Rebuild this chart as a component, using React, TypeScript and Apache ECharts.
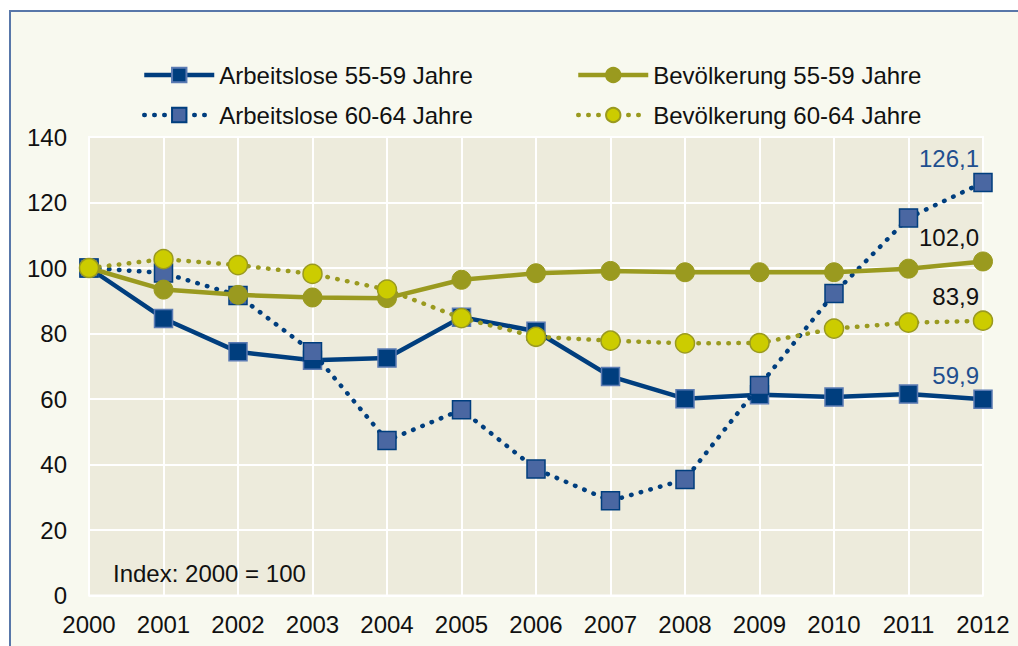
import React, { useEffect, useRef } from "react";
import * as echarts from "echarts";

const years = ["2000","2001","2002","2003","2004","2005","2006","2007","2008","2009","2010","2011","2012"];
const arb5559 = [100, 84.6, 74.4, 71.8, 72.5, 85.0, 80.7, 66.9, 60.1, 61.3, 60.6, 61.5, 59.9];
const arb6064 = [100, 98.5, 91.6, 74.4, 47.3, 56.7, 38.6, 28.9, 35.4, 64.1, 92.2, 115.3, 126.1];
const bev5559 = [100, 93.4, 91.8, 91.0, 90.8, 96.4, 98.4, 99.1, 98.7, 98.7, 98.7, 99.8, 102.0];
const bev6064 = [100, 102.7, 100.9, 98.2, 93.4, 84.7, 79.0, 77.8, 77.0, 77.1, 81.5, 83.3, 83.9];
const seriesNames = ["Arbeitslose 55-59 Jahre", "Arbeitslose 60-64 Jahre", "Bevölkerung 55-59 Jahre", "Bevölkerung 60-64 Jahre"];
const yTicks = { min: 0, max: 140, interval: 20 };
const noteText = "Index: 2000 = 100";

const FONT = "Liberation Sans, Arial, sans-serif";
const FS = 24;
const NAVY = "#003e7e";
const NAVY_LIGHT = "#4a67a2";
const STEEL = "#5b7bb3";
const OLIVE = "#9a9a1f";
const YELLOW = "#cccc00";
const LABEL_BLUE = "#1f4f8f";

const fmt = (v: number) => v.toFixed(1).replace(".", ",");

function lastLabel(color: string) {
  return {
    show: true,
    position: "top",
    distance: 2,
    align: "right",
    offset: [-4, 0],
    color,
    fontSize: FS,
    fontFamily: FONT,
    formatter: (p: any) => (p.dataIndex === years.length - 1 ? fmt(p.value) : ""),
  };
}

export default function App() {
  const ref = useRef<HTMLDivElement>(null);
  useEffect(() => {
    document.body.style.margin = "0";
    const chart = echarts.init(ref.current!, undefined, { renderer: "svg" });
    const dotted = { type: [0.5, 9.5], cap: "round" } as any;
    const legendBase = {
      orient: "vertical", top: 58, itemWidth: 70, itemHeight: 18, itemGap: 16,
      textStyle: { fontSize: FS, color: "#111", fontFamily: FONT, lineHeight: 24 },
      lineStyle: { width: 4.5 },
    };
    chart.setOption({
      animation: false,
      textStyle: { fontFamily: FONT },
      grid: {
        left: 89, right: 35, top: 137, bottom: 50.5,
        show: true, backgroundColor: "#edebdc", borderColor: "#ffffff", borderWidth: 2,
      },
      legend: [
        { ...legendBase, left: 137, data: [seriesNames[0], seriesNames[1]] },
        { ...legendBase, left: 571, data: [seriesNames[2], seriesNames[3]] },
      ],
      xAxis: {
        type: "category", data: years, boundaryGap: false,
        axisLine: { show: false }, axisTick: { show: false },
        axisLabel: { fontSize: FS, color: "#111", margin: 17, fontFamily: FONT },
        splitLine: { show: true, lineStyle: { color: "#ffffff", width: 2 } },
      },
      yAxis: {
        type: "value", min: yTicks.min, max: yTicks.max, interval: yTicks.interval,
        axisLine: { show: false }, axisTick: { show: false },
        axisLabel: { fontSize: FS, color: "#111", margin: 22, fontFamily: FONT },
        splitLine: { show: true, lineStyle: { color: "#ffffff", width: 2 } },
      },
      graphic: [
        { type: "text", left: 113, top: 561, z: 100, style: { text: noteText, fontSize: FS, fill: "#111", fontFamily: FONT } },
      ],
      series: [
        {
          name: seriesNames[0], type: "line", data: arb5559, symbol: "rect", symbolSize: 18,
          lineStyle: { color: NAVY, width: 4.5 },
          itemStyle: { color: NAVY, borderColor: STEEL, borderWidth: 1.5 },
          label: lastLabel(LABEL_BLUE), z: 2,
        },
        {
          name: seriesNames[1], type: "line", data: arb6064, symbol: "rect", symbolSize: 18,
          lineStyle: { color: NAVY, width: 4.5, ...dotted },
          itemStyle: { color: NAVY_LIGHT, borderColor: NAVY, borderWidth: 1.5 },
          label: lastLabel(LABEL_BLUE), z: 3,
        },
        {
          name: seriesNames[2], type: "line", data: bev5559, symbol: "circle", symbolSize: 19,
          lineStyle: { color: OLIVE, width: 4.5 },
          itemStyle: { color: OLIVE, borderColor: OLIVE, borderWidth: 1 },
          label: lastLabel("#111"), z: 4,
        },
        {
          name: seriesNames[3], type: "line", data: bev6064, symbol: "circle", symbolSize: 19,
          lineStyle: { color: OLIVE, width: 4.5, ...dotted },
          itemStyle: { color: YELLOW, borderColor: OLIVE, borderWidth: 1.5 },
          label: lastLabel("#111"), z: 5,
        },
      ],
    });
    return () => chart.dispose();
  }, []);
  return (
    <div style={{ position: "relative", width: 1018, height: 646, background: "#ffffff", overflow: "hidden" }}>
      <div
        style={{
          position: "absolute", left: 9, top: 10, width: 1030, height: 660,
          background: "#f8f9ef", borderLeft: "2.5px solid #5877a9", borderTop: "2.5px solid #5877a9",
        }}
      />
      <div ref={ref} style={{ position: "absolute", left: 0, top: 0, width: 1018, height: 646 }} />
    </div>
  );
}
